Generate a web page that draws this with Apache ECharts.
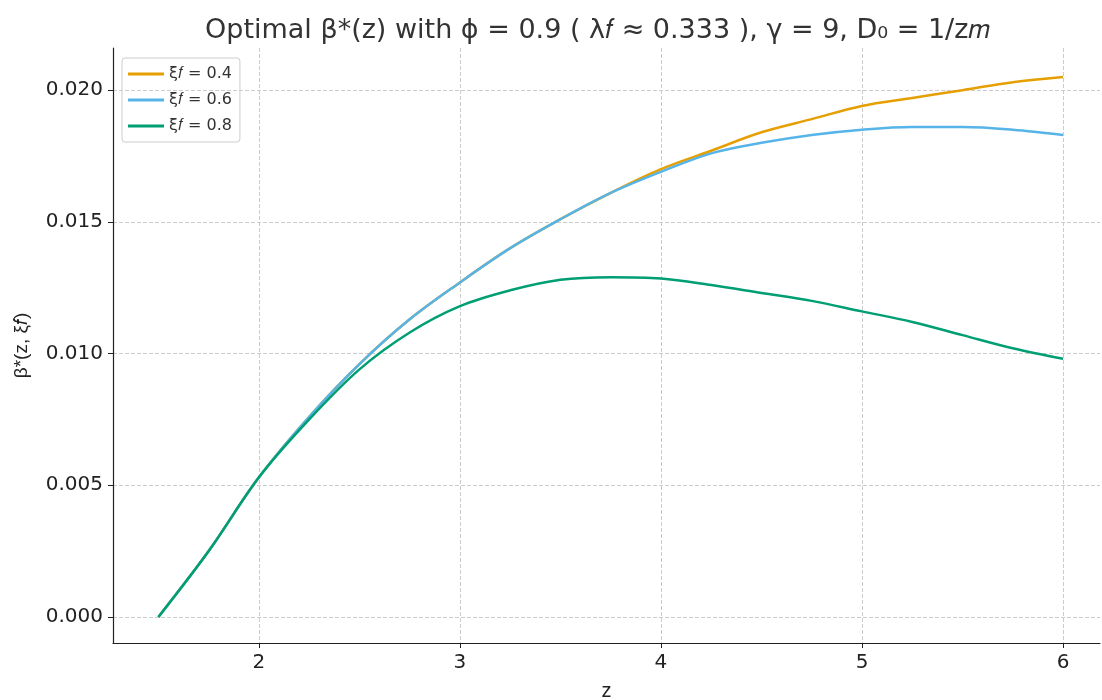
<!DOCTYPE html>
<html><head><meta charset="utf-8">
<script src="https://cdn.jsdelivr.net/npm/echarts@6/dist/echarts.min.js"></script>
<style>html,body{margin:0;padding:0;background:#fff}#c{width:1102px;height:700px}</style>
</head><body><div id="c"></div>
<script>
const zVals = [1.5,1.75,2,2.25,2.5,2.75,3,3.25,3.5,3.75,4,4.25,4.5,4.75,5,5.25,5.5,5.75,6];
const beta04 = [0,0.0025,0.0053,0.0076,0.0096,0.0113,0.0127,0.0140,0.0151,0.0161,0.0170,0.0177,0.0184,0.0189,0.0194,0.0197,0.0200,0.0203,0.0205];
const beta06 = [0,0.0025,0.0053,0.0076,0.0096,0.0113,0.0127,0.0140,0.0151,0.0161,0.0169,0.0176,0.0180,0.0183,0.0185,0.0186,0.0186,0.0185,0.0183];
const beta08 = [0,0.0025,0.0053,0.0075,0.0094,0.0108,0.0118,0.0124,0.0128,0.0129,0.01285,0.0126,0.0123,0.0120,0.0116,0.0112,0.0107,0.0102,0.0098];
const xTicks = [2,3,4,5,6];
const yTicks = [0,0.005,0.010,0.015,0.020];
const names = ['ξ𝑓 = 0.4','ξ𝑓 = 0.6','ξ𝑓 = 0.8'];
const colors = ['#E69F00','#56B4E9','#009E73'];

const chart = echarts.init(document.getElementById('c'));
const mk = (arr) => zVals.map((z,i)=>[z,arr[i]]);
const lbl = {color:'#222',fontSize:20,fontFamily:'DejaVu Sans',margin:10};
chart.setOption({
  animation:false,
  color:colors,
  title:{text:'Optimal β*(z) with ϕ = 0.9 ( λ𝑓 ≈ 0.333 ), γ = 9, D₀ = 1/z𝑚',left:200,top:12,
    textStyle:{fontSize:27,fontWeight:'normal',color:'#333',fontFamily:'DejaVu Sans'}},
  legend:{left:122,top:58,orient:'vertical',itemWidth:36,itemHeight:3,itemGap:10,
    borderColor:'#ccc',borderWidth:1,borderRadius:3,padding:[8,8,8,6],
    textStyle:{fontSize:16,color:'#333',fontFamily:'DejaVu Sans'},icon:'rect'},
  grid:{left:113,right:2,top:48,bottom:57,outerBoundsMode:'none'},
  xAxis:{type:'value',min:1.274,max:6.184,name:'z',nameLocation:'middle',nameGap:38,
    nameTextStyle:{fontSize:20,color:'#222'},
    axisLine:{show:true,onZero:false,lineStyle:{color:'#222',width:1.2}},
    axisTick:{show:true,length:5,customValues:xTicks,lineStyle:{color:'#222'}},
    splitLine:{show:true,lineStyle:{color:'#ccc',type:'dashed'}},
    axisLabel:Object.assign({customValues:xTicks},lbl)},
  yAxis:{type:'value',min:-0.00099,max:0.0216,name:'β*(z, ξ𝑓)',nameLocation:'middle',nameGap:82,
    nameTextStyle:{fontSize:19,color:'#222'},
    axisLine:{show:true,onZero:false,lineStyle:{color:'#222',width:1.2}},
    axisTick:{show:true,length:5,customValues:yTicks,lineStyle:{color:'#222'}},
    splitLine:{show:true,lineStyle:{color:'#ccc',type:'dashed'}},
    axisLabel:Object.assign({customValues:yTicks,formatter:v=>v.toFixed(3)},lbl)},
  series:[beta04,beta06,beta08].map((d,i)=>({
    name:names[i],type:'line',data:mk(d),smooth:0.35,showSymbol:false,
    lineStyle:{width:2.5,color:colors[i]}
  }))
});
</script></body></html>
